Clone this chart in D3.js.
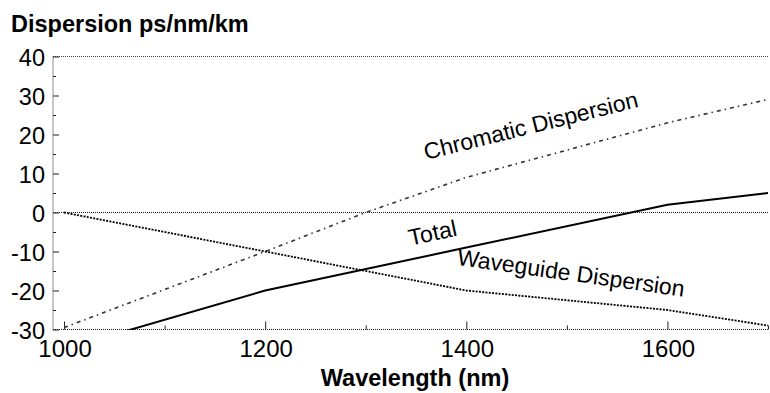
<!DOCTYPE html>
<html><head><meta charset="utf-8">
<script src="https://cdn.jsdelivr.net/npm/d3@7/dist/d3.min.js"></script>
<style>body{margin:0;background:#fff}svg{display:block;font-family:"Liberation Sans",Arial,sans-serif}</style>
</head><body><svg id="c" width="770" height="393"></svg>
<script>
const wavelength = [1000, 1200, 1300, 1400, 1600, 1700];
const chromatic  = [-29.5, -10, 0, 9, 23, 29];
const waveguideX = [1000, 1200, 1400, 1600, 1700];
const waveguide  = [0, -10, -20, -25, -29];
const totalX     = [1000, 1200, 1400, 1600, 1700];
const total      = [-35, -20, -9, 2, 5];
const xMajor = [1000, 1200, 1400, 1600];
const xMinor = [1100, 1300, 1500, 1700];
const yMajor = [-30, -20, -10, 0, 10, 20, 30, 40];
const yMinor = [-25, -15, -5, 5, 15, 25, 35];
const labels = [
  {text: "Chromatic Dispersion", x: 1466, y: 20.3, angle: -14},
  {text: "Total", x: 1368, y: -7.2, angle: -12},
  {text: "Waveguide Dispersion", x: 1503, y: -17.5, angle: 8}
];

const svg = d3.select("#c");
const x = d3.scaleLinear().domain([989, 1700]).range([53, 768]);
const y = d3.scaleLinear().domain([-30, 40]).range([329.5, 56.5]);

svg.append("defs").append("clipPath").attr("id","clip")
  .append("rect").attr("x",53).attr("y",56).attr("width",716).attr("height",274);

const dot = "1,1";
svg.append("line").attr("x1",53).attr("x2",769).attr("y1",y(40)).attr("y2",y(40))
  .attr("stroke","#444").attr("stroke-dasharray",dot);
svg.append("line").attr("x1",53).attr("x2",769).attr("y1",y(0)).attr("y2",y(0))
  .attr("stroke","#222").attr("stroke-dasharray",dot);

const gx = svg.append("g").attr("transform",`translate(0,${y(-30)})`)
  .call(d3.axisTop(x).tickValues(xMajor).tickSize(8).tickFormat(""));
const gx2 = svg.append("g").attr("transform",`translate(0,${y(-30)})`)
  .call(d3.axisTop(x).tickValues(xMinor).tickSize(4).tickFormat(""));
[gx,gx2].forEach(g=>{g.select(".domain").remove(); g.selectAll("line").attr("stroke","#222");});
svg.append("line").attr("x1",53).attr("x2",769).attr("y1",y(-30)).attr("y2",y(-30))
  .attr("stroke","#222").attr("stroke-dasharray",dot);
svg.append("g").selectAll("text").data(xMajor).join("text")
  .attr("x",d=>x(d)+1).attr("y",356.5).attr("text-anchor","middle")
  .attr("font-size",24).attr("fill","#000").text(d=>d);

const gy = svg.append("g").attr("transform",`translate(53,0)`)
  .call(d3.axisRight(y).tickValues(yMajor).tickSize(6).tickFormat(""));
const gy2 = svg.append("g").attr("transform",`translate(53,0)`)
  .call(d3.axisRight(y).tickValues(yMinor).tickSize(3).tickFormat(""));
[gy,gy2].forEach(g=>{g.select(".domain").remove(); g.selectAll("line").attr("stroke","#222");});
svg.append("line").attr("x1",53).attr("x2",53).attr("y1",y(40)).attr("y2",y(-30))
  .attr("stroke","#222").attr("stroke-dasharray",dot);
svg.append("g").selectAll("text").data(yMajor).join("text")
  .attr("x",45).attr("y",d=>y(d)+9).attr("text-anchor","end")
  .attr("font-size",23.5).attr("fill","#000").text(d=>d);

const plot = svg.append("g").attr("clip-path","url(#clip)");
const line = d3.line().x(d=>x(d[0])).y(d=>y(d[1]));
plot.append("path").datum(wavelength.map((w,i)=>[w,chromatic[i]]))
  .attr("d",line).attr("fill","none").attr("stroke","#333").attr("stroke-width",1.6)
  .attr("stroke-dasharray","4,4,1.5,4");
plot.append("path").datum(waveguideX.map((w,i)=>[w,waveguide[i]]))
  .attr("d",line).attr("fill","none").attr("stroke","#000").attr("stroke-width",1.8)
  .attr("stroke-dasharray","2,1.3");
plot.append("path").datum(totalX.map((w,i)=>[w,total[i]]))
  .attr("d",line).attr("fill","none").attr("stroke","#000").attr("stroke-width",2);

svg.append("g").selectAll("text").data(labels).join("text")
  .attr("transform",d=>`translate(${x(d.x)},${y(d.y)}) rotate(${d.angle})`)
  .attr("text-anchor","middle").attr("font-size",23).attr("fill","#000").text(d=>d.text);

svg.append("text").attr("x",11).attr("y",32).attr("font-size",23.5).attr("font-weight","bold")
  .attr("fill","#000").text("Dispersion ps/nm/km");
svg.append("text").attr("x",415).attr("y",386).attr("text-anchor","middle").attr("font-size",23.5)
  .attr("font-weight","bold").attr("fill","#000").text("Wavelength (nm)");
</script></body></html>
